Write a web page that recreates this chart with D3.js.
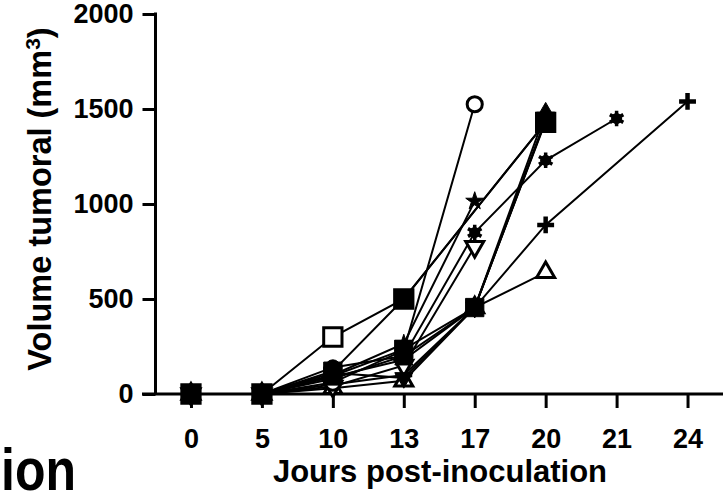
<!DOCTYPE html>
<html>
<head>
<meta charset="utf-8">
<script src="https://cdn.jsdelivr.net/npm/d3@7/dist/d3.min.js"></script>
<style>
  html, body { margin: 0; padding: 0; background: #fff; }
  svg { display: block; }
  text { font-family: "Liberation Sans", Arial, sans-serif; font-weight: bold; fill: #000; }
</style>
</head>
<body>
<svg id="chart" width="723" height="495"></svg>
<script>
// ---------- data ----------
const days = ["0", "5", "10", "13", "17", "20", "21", "24"];
const yTicks = [0, 500, 1000, 1500, 2000];

const openCircle   = [0, 0, 60, 230, 1525, null, null, null];
const filledTriUp  = [0, 0, 90, 180, 455, 1480, null, null];
const filledSquare = [0, 0, 120, 500, null, 1430, null, null];
const openSquare   = [0, 0, 300, 500, null, 1430, null, null];
const filledCircle = [0, 0, 140, 200, 455, 1440, null, null];
const filledSquareB= [0, 0, 95, 235, 455, 1435, null, null];
const star         = [0, 0, 100, 265, 1015, null, null, null];
const asterisk     = [0, 0, 80, 200, 850, 1230, 1450, null];
const openTriDown  = [0, 0, 40, 150, 775, null, null, null];
const plusSeries   = [0, 0, 50, 100, 455, 890, null, 1540];
const openTriUp    = [0, 0, 30, 70, 455, 640, null, null];
const filledTriDown= [0, 0, 110, 85, 455, 1445, null, null];

const series = [
  { name: "openTriUp", values: openTriUp, marker: "triUp", open: true },
  { name: "plus", values: plusSeries, marker: "plus", open: false },
  { name: "openTriDown", values: openTriDown, marker: "triDown", open: true },
  { name: "asterisk", values: asterisk, marker: "asterisk", open: false },
  { name: "star", values: star, marker: "star", open: false },
  { name: "filledTriDown", values: filledTriDown, marker: "triDown", open: false },
  { name: "openCircle", values: openCircle, marker: "circle", open: true },
  { name: "openSquare", values: openSquare, marker: "square", open: true },
  { name: "filledTriUp", values: filledTriUp, marker: "triUp", open: false },
  { name: "filledCircle", values: filledCircle, marker: "circle", open: false },
  { name: "filledSquareB", values: filledSquareB, marker: "square", open: false },
  { name: "filledSquare", values: filledSquare, marker: "square", open: false }
];

// ---------- layout ----------
const svg = d3.select("#chart");
const x = d3.scalePoint().domain(days).range([155.5, 723]).padding(0.5);
const y = d3.scaleLinear().domain([0, 2000]).range([394, 14]);

// y axis
const gy = svg.append("g").attr("transform", "translate(155.5,0)")
  .call(d3.axisLeft(y).tickValues(yTicks).tickSize(13).tickPadding(9).tickFormat(d3.format("d")));
gy.select(".domain").remove();
gy.selectAll(".tick line").attr("stroke", "#000").attr("stroke-width", 3);
gy.selectAll(".tick text").attr("font-size", 27).attr("font-family", "Liberation Sans, Arial, sans-serif").attr("font-weight", "bold");

// x axis
const gx = svg.append("g").attr("transform", "translate(0,394)")
  .call(d3.axisBottom(x).tickSize(14).tickPadding(21));
gx.select(".domain").remove();
gx.selectAll(".tick line").attr("stroke", "#000").attr("stroke-width", 3);
gx.selectAll(".tick text").attr("font-size", 27).attr("font-family", "Liberation Sans, Arial, sans-serif").attr("font-weight", "bold");

// axis lines
svg.append("line").attr("x1", 155.5).attr("x2", 155.5).attr("y1", y(2000) - 1.5).attr("y2", y(0))
  .attr("stroke", "#000").attr("stroke-width", 3);
svg.append("line").attr("x1", 142).attr("x2", 723).attr("y1", y(0)).attr("y2", y(0))
  .attr("stroke", "#000").attr("stroke-width", 3);

// axis titles
svg.append("text")
  .attr("transform", "translate(51,199) rotate(-90)")
  .attr("text-anchor", "middle")
  .attr("font-size", 32.5)
  .call(t => {
    t.append("tspan").text("Volume tumoral (mm");
    t.append("tspan").attr("baseline-shift", "super").attr("font-size", 21).text("3");
    t.append("tspan").text(")");
  });

svg.append("text")
  .attr("x", 440).attr("y", 482)
  .attr("text-anchor", "middle")
  .attr("font-size", 31)
  .text("Jours post-inoculation");

svg.append("text")
  .attr("x", 1).attr("y", 490)
  .attr("font-size", 60)
  .attr("textLength", 75)
  .attr("lengthAdjust", "spacingAndGlyphs")
  .text("ion");

// ---------- lines ----------
const line = d3.line().x(d => x(d.day)).y(d => y(d.v));
const pts = s => s.values.map((v, i) => ({ day: days[i], v })).filter(d => d.v !== null);

const gLines = svg.append("g");
series.forEach(s => {
  gLines.append("path").datum(pts(s))
    .attr("d", line).attr("fill", "none").attr("stroke", "#000").attr("stroke-width", 2);
});

// ---------- markers ----------
const symbolFor = {
  circle: d3.symbol(d3.symbolCircle, 180)(),
  square: d3.symbol(d3.symbolSquare, 335)(),
  triUp: d3.symbol(d3.symbolTriangle, 140)(),
  triDown: d3.symbol(d3.symbolTriangle, 140)(),
  star: d3.symbol(d3.symbolStar, 100)(),
  plus: d3.symbol(d3.symbolPlus, 95)(),
  asterisk: d3.symbol(d3.symbolAsterisk, 170)()
};

const gMarks = svg.append("g");
series.forEach(s => {
  pts(s).forEach(d => {
    const cx = x(d.day), cy = y(d.v);
    const rot = s.marker === "triDown" ? 180 : 0;
    const g = gMarks.append("g").attr("transform", `translate(${cx},${cy}) rotate(${rot})`);
    if (s.marker === "plus") {
      g.append("path").attr("d", symbolFor.plus).attr("fill", "none").attr("stroke", "#000").attr("stroke-width", 4.5);
    } else if (s.marker === "asterisk") {
      g.append("circle").attr("r", 5.5).attr("fill", "#000");
      g.append("path").attr("d", symbolFor.asterisk).attr("fill", "none").attr("stroke", "#000").attr("stroke-width", 3.5);
    } else {
      g.append("path").attr("d", symbolFor[s.marker])
        .attr("fill", s.open ? "#fff" : "#000")
        .attr("stroke", "#000").attr("stroke-width", s.open ? 3 : 1);
    }
  });
});
</script>
</body>
</html>
